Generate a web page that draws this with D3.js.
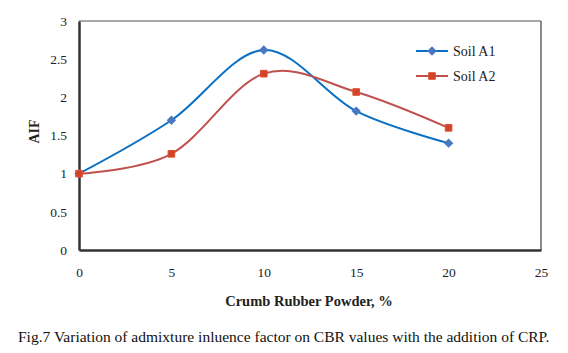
<!DOCTYPE html>
<html>
<head>
<meta charset="utf-8">
<script src="https://cdn.jsdelivr.net/npm/d3@7"></script>
<style>
  body { margin: 0; background: #fff; }
</style>
</head>
<body>
<div id="chart"></div>
<script>
// Data
var crp = [0, 5, 10, 15, 20];
var soilA1 = [1, 1.7, 2.62, 1.82, 1.4];
var soilA2 = [1, 1.26, 2.31, 2.07, 1.6];
var xTicks = [0, 5, 10, 15, 20, 25];
var yTicks = [0, 0.5, 1, 1.5, 2, 2.5, 3];

var serif = 'Liberation Serif';

var W = 568, H = 353,
    margin = {top: 21, right: 27, bottom: 103, left: 79},
    width = W - margin.left - margin.right,
    height = H - margin.top - margin.bottom;

var svg = d3.select('#chart').append('svg')
    .attr('width', W)
    .attr('height', H)
    .attr('font-family', serif);

var g = svg.append('g')
    .attr('transform', 'translate(' + margin.left + ',' + margin.top + ')');

var x = d3.scaleLinear().domain([0, 25]).range([0, width]);
var y = d3.scaleLinear().domain([0, 3]).range([height, 0]);

// frame: thin top / right, thick left / bottom
g.append('line').attr('x1', 0).attr('x2', width).attr('y1', 0).attr('y2', 0)
    .style('stroke', '#555').style('stroke-width', 1);
g.append('line').attr('x1', width).attr('x2', width).attr('y1', 0).attr('y2', height)
    .style('stroke', '#666').style('stroke-width', 1.5);

var xAxis = d3.axisBottom(x).tickValues(xTicks).tickSize(0).tickPadding(17).tickFormat(d3.format('~g'));
var yAxis = d3.axisLeft(y).tickValues(yTicks).tickSize(0).tickPadding(12).tickFormat(d3.format('~g'));

function styleAxis(s) {
    s.attr('font-family', serif).attr('font-size', 13.5);
    s.select('.domain').style('stroke', '#333').style('stroke-width', 2.5);
    s.selectAll('text').attr('fill', '#222');
}

g.append('g')
    .attr('transform', 'translate(0,' + height + ')')
    .call(xAxis)
    .call(styleAxis);

g.append('g')
    .call(yAxis)
    .call(styleAxis);

// axis titles
g.append('text')
    .attr('x', width / 2 - 1).attr('y', height + 56)
    .attr('text-anchor', 'middle')
    .attr('font-weight', 'bold').attr('font-size', 14.5)
    .attr('fill', '#222')
    .text('Crumb Rubber Powder, %');

g.append('text')
    .attr('transform', 'translate(-40,' + (height / 2 - 4) + ') rotate(-90)')
    .attr('text-anchor', 'middle')
    .attr('font-weight', 'bold').attr('font-size', 14)
    .attr('fill', '#222')
    .text('AIF');

// series
var series = [
    {name: 'Soil A1', values: soilA1, line: '#0a70c4', marker: '#4a78c0', diamond: true},
    {name: 'Soil A2', values: soilA2, line: '#c0504d', marker: '#d0442a', diamond: false}
];

var marker = d3.symbol().type(d3.symbolSquare).size(44);

function markerTransform(s, px, py) {
    return 'translate(' + px + ',' + py + ')' + (s.diamond ? ' rotate(45)' : '');
}

var line = d3.line()
    .x(function(d) { return x(d.x); })
    .y(function(d) { return y(d.y); })
    .curve(d3.curveCardinal.tension(0));

series.forEach(function(s) {
    var pts = crp.map(function(c, i) { return {x: c, y: s.values[i]}; });
    g.append('path')
        .datum(pts)
        .attr('d', line)
        .style('fill', 'none')
        .style('stroke', s.line)
        .style('stroke-width', 2);
    g.selectAll('.m' + s.name.replace(' ', ''))
        .data(pts)
        .enter().append('path')
        .attr('transform', function(d) { return markerTransform(s, x(d.x), y(d.y)); })
        .attr('d', marker)
        .style('fill', s.marker)
        .style('stroke', s.diamond ? 'none' : '#e05030')
        .style('stroke-width', 1);
});

// legend
var legend = svg.append('g').attr('transform', 'translate(416,51)');
series.forEach(function(s, i) {
    var row = legend.append('g').attr('transform', 'translate(0,' + (i * 25) + ')');
    row.append('line').attr('x1', 0).attr('x2', 32).attr('y1', 0).attr('y2', 0)
        .style('stroke', s.line).style('stroke-width', 2);
    row.append('path').attr('transform', markerTransform(s, 16, 0))
        .attr('d', marker)
        .style('fill', s.marker)
        .style('stroke', s.diamond ? 'none' : '#e05030');
    row.append('text').attr('x', 37).attr('y', 0).attr('dy', '0.35em')
        .attr('font-size', 14)
        .attr('fill', '#222')
        .text(s.name);
});

// caption
svg.append('text')
    .attr('x', 18).attr('y', 342)
    .attr('font-size', 15.5)
    .attr('fill', '#111')
    .text('Fig.7 Variation of admixture inluence factor on CBR values with the addition of CRP.');
</script>
</body>
</html>
